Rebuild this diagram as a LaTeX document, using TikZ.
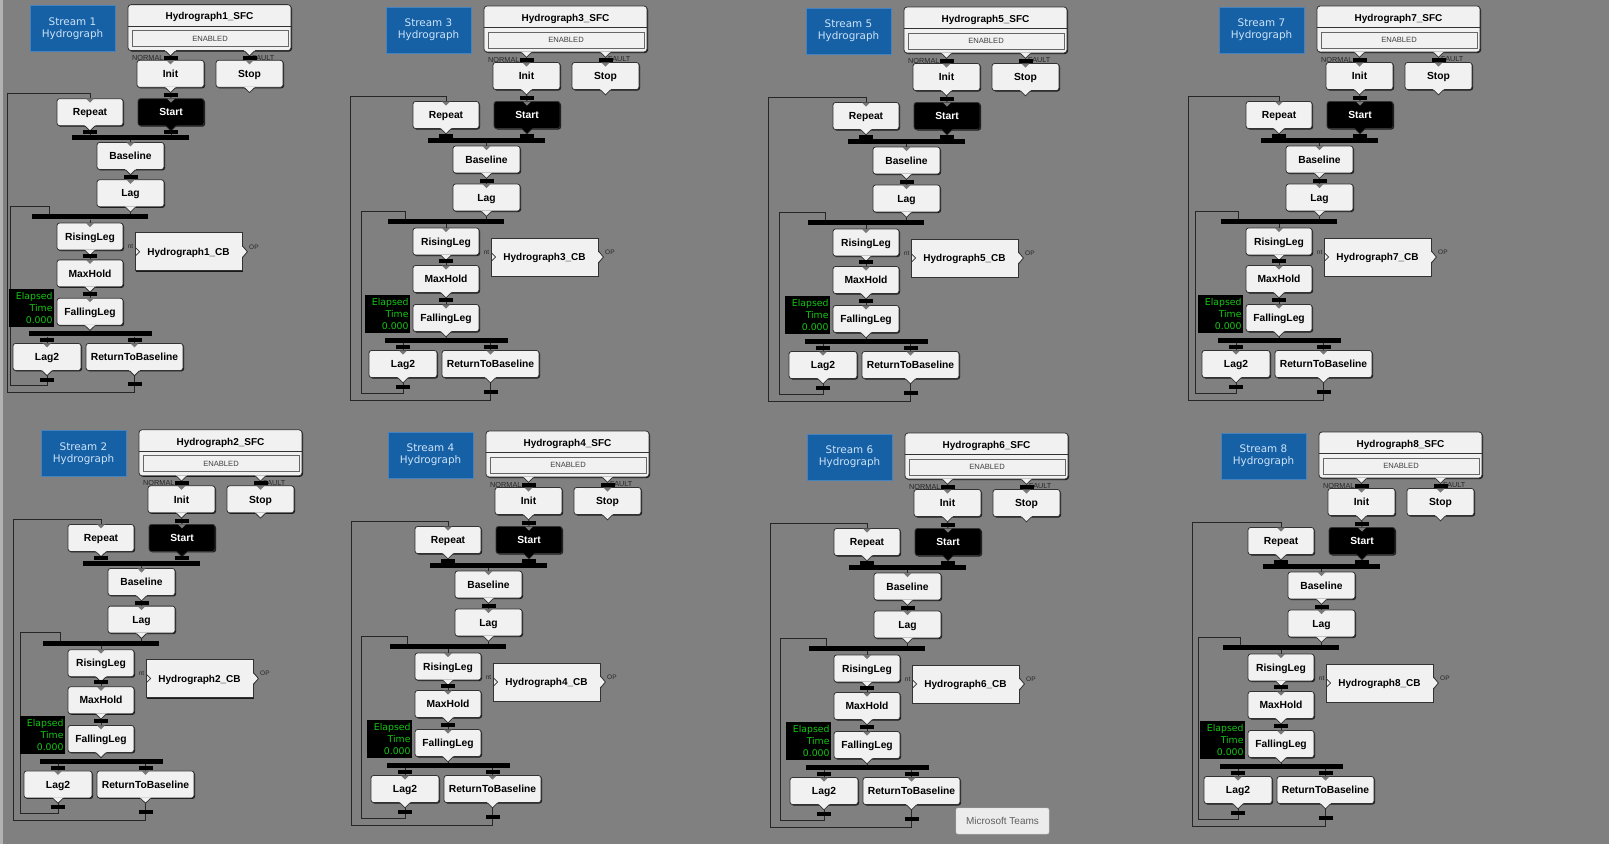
\documentclass[tikz,border=0pt]{standalone}
\usepackage{fontspec}
\setmainfont{Liberation Sans}
\newfontfamily\dvs{DejaVu Sans}
\usetikzlibrary{shadows,calc}
\definecolor{bggray}{RGB}{128,128,128}
\definecolor{stepfill}{RGB}{241,241,241}
\definecolor{stepborder}{RGB}{50,50,50}
\definecolor{streamblue}{RGB}{22,96,166}
\definecolor{streamtext}{RGB}{205,228,248}
\definecolor{streamedge}{RGB}{70,130,190}
\definecolor{elgreen}{RGB}{20,200,20}
\definecolor{linegray}{RGB}{38,38,38}
\definecolor{notchgray}{RGB}{120,120,120}
\definecolor{tipfill}{RGB}{236,236,236}
\definecolor{tipedge}{RGB}{205,205,205}
\definecolor{tiptext}{RGB}{95,95,95}
\definecolor{leftedge}{RGB}{178,178,178}

\pgfdeclarelayer{back}
\pgfdeclarelayer{lines}
\pgfsetlayers{back,lines,main}

\tikzset{
  x=1pt, y=-1pt,
  stepbox/.style={draw=stepborder, line width=0.8pt, rounded corners=2.5pt, inner sep=0pt,
    minimum height=27pt, text height=7.4pt, text depth=0pt,
    font=\fontsize{10.3}{12}\selectfont\bfseries,
    drop shadow={shadow xshift=1pt, shadow yshift=-1pt, fill=black, opacity=0.8}},
  tbar/.style={fill=black, inner sep=0pt, minimum width=14pt, minimum height=4pt},
  bigbar/.style={fill=black, inner sep=0pt, minimum height=5pt},
  conn/.style={draw=linegray, line width=1pt},
  streambox/.style={fill=streamblue, draw=streamedge, line width=0.8pt, minimum width=85pt,
    minimum height=46pt, inner sep=0pt, text=streamtext, align=center,
    font=\dvs\fontsize{10.4}{12.3}\selectfont},
  sfcbox/.style={fill=stepfill, draw=stepborder, line width=0.8pt, rounded corners=3pt,
    minimum width=163pt, minimum height=46pt, inner sep=0pt,
    drop shadow={shadow xshift=1pt, shadow yshift=-1pt, fill=black, opacity=0.8}},
  titlelbl/.style={inner sep=0pt, text height=7.2pt, text depth=0pt, font=\fontsize{10}{12}\selectfont\bfseries},
  enbox/.style={draw=black!60, fill=stepfill, line width=0.8pt, minimum width=156pt,
    minimum height=16pt, inner sep=0pt, font=\fontsize{7.6}{9}\selectfont, text=black!75},
  smalllbl/.style={inner sep=0pt, font=\fontsize{7.3}{8}\selectfont, text=black!85},
  tinylbl/.style={inner sep=0pt, font=\fontsize{6.5}{7}\selectfont, text=black!85},
  cbbox/.style={fill=stepfill, draw=stepborder, line width=0.8pt, minimum width=107pt,
    minimum height=38pt, inner sep=0pt, text height=7.2pt, text depth=0pt,
    font=\fontsize{10}{12}\selectfont\bfseries,
    drop shadow={shadow xshift=1pt, shadow yshift=-1pt, fill=black, opacity=0.8}},
  elbox/.style={fill=black, minimum width=45pt, minimum height=38pt, inner sep=0pt,
    align=right, text width=42pt, text=elgreen, font=\dvs\fontsize{9.3}{12}\selectfont},
  tipbox/.style={fill=tipfill, draw=tipedge, rounded corners=2pt, minimum width=93pt,
    minimum height=26pt, inner sep=0pt, text=tiptext, font=\fontsize{10}{12}\selectfont}
}

% step with bottom tab and top notch
\newcommand\sfcstep[7]{%
  \node[stepbox, fill=#6, text=#7, minimum width=#4pt] (#1) at (#2,#3) {#5};
  \fill[#6] ([xshift=-5.5pt,yshift=0.9pt]#1.south) -- ([xshift=5.5pt,yshift=0.9pt]#1.south)
     -- ([xshift=5pt]#1.south) -- ([yshift=-5pt]#1.south) -- ([xshift=-5pt]#1.south) -- cycle;
  \draw[stepborder, line width=0.8pt] ([xshift=-5pt]#1.south) -- ([yshift=-5pt]#1.south) -- ([xshift=5pt]#1.south);
  \fill[notchgray] ([xshift=-4pt,yshift=-0.4pt]#1.north) -- ([xshift=4pt,yshift=-0.4pt]#1.north)
     -- ([yshift=-4.5pt]#1.north) -- cycle;
}
% tab below the SFC block
\newcommand\downtab[1]{%
  \fill[stepfill] ([xshift=-5.5pt,yshift=0.9pt]#1) -- ([xshift=5.5pt,yshift=0.9pt]#1)
     -- ([xshift=5pt]#1) -- ([yshift=-5pt]#1) -- ([xshift=-5pt]#1) -- cycle;
  \draw[stepborder, line width=0.8pt] ([xshift=-5pt]#1) -- ([yshift=-5pt]#1) -- ([xshift=5pt]#1);
}

% #1 number, #2 x, #3 y, #4 yscale, #5 outer loop x, #6 inner loop x
\newcommand\hpanel[6]{%
\begin{scope}[shift={(#2,#3)}]
\begin{scope}[yscale=#4]
  \node[streambox] (p#1stream) at (42.5,23) {Stream #1\\Hydrograph};
  \node[sfcbox] (p#1sfc) at (179.5,22) {};
  \node[titlelbl] (p#1title) at (179.5,10.5) {Hydrograph#1\_SFC};
  \coordinate (p#1sep) at (0,20.5);
  \draw[stepborder, line width=0.6pt] (p#1sfc.west |- p#1sep) -- (p#1sfc.east |- p#1sep);
  \node[enbox] (p#1en) at (180,33) {ENABLED};
  \node[smalllbl, anchor=west] (p#1normal) at (102,52.5) {NORMAL};
  \node[smalllbl, anchor=west] (p#1fault) at (222,52.5) {FAULT};
  % steps
  \sfcstep{p#1init}{140.5}{69}{67}{Init}{stepfill}{black}
  \sfcstep{p#1stop}{219.5}{69}{67}{Stop}{stepfill}{black}
  \sfcstep{p#1start}{141}{108}{66}{Start}{black}{white}
  \sfcstep{p#1repeat}{60}{108}{66}{Repeat}{stepfill}{black}
  \sfcstep{p#1baseline}{100.5}{152.5}{67}{Baseline}{stepfill}{black}
  \sfcstep{p#1lag}{100.5}{190.5}{67}{Lag}{stepfill}{black}
  \sfcstep{p#1rising}{60}{234.5}{66}{RisingLeg}{stepfill}{black}
  \sfcstep{p#1maxhold}{60}{272}{66}{MaxHold}{stepfill}{black}
  \sfcstep{p#1falling}{60}{311}{66}{FallingLeg}{stepfill}{black}
  \sfcstep{p#1lagtwo}{17}{357}{68}{Lag2}{stepfill}{black}
  \sfcstep{p#1rtb}{104.5}{357}{97}{ReturnToBaseline}{stepfill}{black}
  % SFC output tabs
  \coordinate (p#1sa) at (p#1init |- p#1sfc.south);
  \coordinate (p#1sb) at (p#1stop |- p#1sfc.south);
  \downtab{p#1sa}
  \downtab{p#1sb}
  % call block
  \node[cbbox] (p#1cb) at (158.5,250) {Hydrograph#1\_CB};
  \fill[stepfill] ([xshift=-1pt,yshift=6pt]p#1cb.east) -- ([xshift=5pt]p#1cb.east) -- ([xshift=-1pt,yshift=-6pt]p#1cb.east) -- cycle;
  \draw[stepborder, line width=0.8pt] ([yshift=6pt]p#1cb.east) -- ([xshift=5pt]p#1cb.east) -- ([yshift=-6pt]p#1cb.east);
  \draw[stepborder, line width=0.7pt] ([xshift=1pt,yshift=4pt]p#1cb.west) -- ([xshift=5pt]p#1cb.west) -- ([xshift=1pt,yshift=-4pt]p#1cb.west);
  \node[tinylbl, anchor=east] (p#1nt) at (103.5,245) {nt};
  \node[tinylbl, anchor=west] (p#1op) at (219,245) {OP};
  % bars
  \node[bigbar, minimum width=117pt] (p#1bara) at (100.5,133.5) {};
  \node[bigbar, minimum width=116pt] (p#1barb) at (60,214.5) {};
  \node[bigbar, minimum width=123pt] (p#1barc) at (60.5,333.5) {};
  \node[tbar] (p#1t1) at (140.5,52.5) {};
  \node[tbar] (p#1t2) at (219.5,52.5) {};
  \node[tbar] (p#1t3) at (141,90.5) {};
  \node[tbar] (p#1t4) at (60,128.5) {};
  \node[tbar] (p#1t5) at (141,128.5) {};
  \node[tbar] (p#1t6) at (100.5,173.5) {};
  \node[tbar] (p#1t7) at (60,254) {};
  \node[tbar] (p#1t8) at (60,293) {};
  \node[tbar] (p#1t9) at (17,340) {};
  \node[tbar] (p#1t10) at (104.5,340) {};
  \node[tbar] (p#1t11) at (17,380) {};
  \node[tbar] (p#1t12) at (104.5,385) {};
  % loop corners
  \coordinate (p#1ib) at (#6,386);
  \coordinate (p#1it) at (#6,204);
  \coordinate (p#1ie) at (19,204);
  \coordinate (p#1ob) at (#5,393);
  \coordinate (p#1ot) at (#5,89);
  % connectors
  \begin{pgfonlayer}{lines}
    \draw[conn] (p#1sa) -- (p#1init.north);
    \draw[conn] (p#1sb) -- (p#1stop.north);
    \draw[conn] (p#1init.south) -- (p#1start.north);
    \draw[conn] (p#1repeat.south) -- (p#1repeat |- p#1bara.north);
    \draw[conn] (p#1start.south) -- (p#1start |- p#1bara.north);
    \draw[conn] (p#1bara.south) -- (p#1baseline.north);
    \draw[conn] (p#1baseline.south) -- (p#1lag.north);
    \draw[conn] (p#1lag.south) -- (p#1lag |- p#1barb.north);
    \draw[conn] (p#1rising |- p#1barb.south) -- (p#1rising.north);
    \draw[conn] (p#1rising.south) -- (p#1maxhold.north);
    \draw[conn] (p#1maxhold.south) -- (p#1falling.north);
    \draw[conn] (p#1falling.south) -- (p#1falling |- p#1barc.north);
    \draw[conn] (p#1lagtwo |- p#1barc.south) -- (p#1lagtwo.north);
    \draw[conn] (p#1rtb |- p#1barc.south) -- (p#1rtb.north);
    \draw[conn] (p#1lagtwo.south) -- (p#1lagtwo |- p#1ib) -- (p#1ib) -- (p#1it) -- (p#1ie) -- (p#1ie |- p#1barb.north);
    \draw[conn] (p#1rtb.south) -- (p#1rtb |- p#1ob) -- (p#1ob) -- (p#1ot) -- (p#1repeat |- p#1ot) -- (p#1repeat.north);
  \end{pgfonlayer}
  % elapsed time display
  \node[elbox] (p#1el) at (1.5,307) {Elapsed\\Time\\0.000};
\end{scope}
\end{scope}
}

\begin{document}
\begin{tikzpicture}
\begin{pgfonlayer}{back}
  \fill[bggray] (0,0) rectangle (1609,844);
  \fill[leftedge] (0,0) rectangle (2.5,844);
\end{pgfonlayer}
\useasboundingbox (0,0) rectangle (1609,844);

\hpanel{1}{30}{6}{0.983}{-23}{-20}
\hpanel{3}{386}{7}{1}{-36}{-25}
\hpanel{5}{806}{8}{1}{-38}{-27}
\hpanel{7}{1219}{7}{1}{-31}{-24}
\hpanel{2}{41}{431}{0.99}{-28}{-21}
\hpanel{4}{388}{432}{1}{-37}{-27}
\hpanel{6}{807}{434}{1}{-37}{-27}
\hpanel{8}{1221}{433}{1}{-29}{-23}

\node[tipbox] (teams) at (1002.5,821) {Microsoft Teams};
\end{tikzpicture}
\end{document}
